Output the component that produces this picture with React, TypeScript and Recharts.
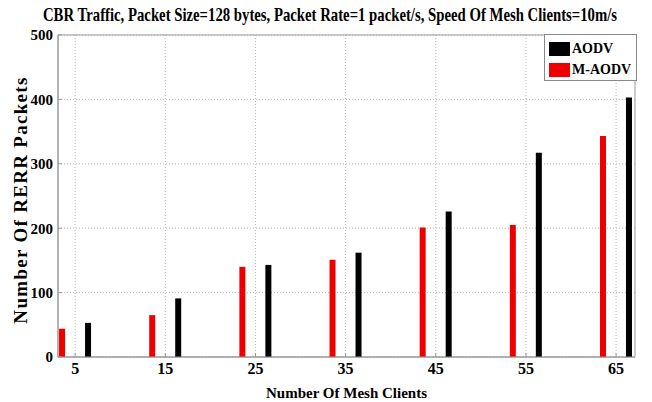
import { BarChart, Bar, XAxis, YAxis, CartesianGrid, ReferenceArea } from "recharts";

const clients = [5, 15, 25, 35, 45, 55, 65];
const aodv = [53, 91, 143, 162, 226, 317, 403];
const mAodv = [44, 65, 140, 151, 201, 205, 343];
const yTicks = [0, 100, 200, 300, 400, 500];

const TITLE = "CBR Traffic, Packet Size=128 bytes, Packet Rate=1 packet/s, Speed Of Mesh Clients=10m/s";
const FONT = '"Liberation Serif", "Times New Roman", serif';
const RED = "#ee0000";
const X_DOMAIN: [number, number] = [3.1, 67.1];

const data = clients.map((c, i) => ({ clients: c, aodv: aodv[i], mAodv: mAodv[i] }));

const xTickStyle = { fontFamily: FONT, fontWeight: 700, fontSize: 16, fill: "#000" };
const yTickStyle = { fontFamily: FONT, fontWeight: 700, fontSize: 15, fill: "#000" };

// legend sits inside the plot's top-right corner, drawn outside recharts so it takes no layout space
function LegendBox() {
  const items = [
    { name: "AODV", color: "#000" },
    { name: "M-AODV", color: RED },
  ];
  return (
    <div
      style={{
        position: "absolute",
        left: 544,
        top: 34,
        width: 93,
        height: 47,
        border: "1px solid #888",
        background: "#fff",
        boxSizing: "border-box",
        padding: "3px 0 0 4px",
      }}
    >
      {items.map((it) => (
        <div key={it.name} style={{ display: "flex", alignItems: "center", height: 21 }}>
          <span style={{ width: 21, height: 14, background: it.color, display: "inline-block" }} />
          <span style={{ marginLeft: 2, fontFamily: FONT, fontWeight: 700, fontSize: 14, color: "#000" }}>
            {it.name}
          </span>
        </div>
      ))}
    </div>
  );
}

export default function App() {
  return (
    <div style={{ position: "absolute", left: 0, top: 0, width: 652, height: 402, background: "#fff" }}>
      <BarChart
        width={652}
        height={402}
        data={data}
        margin={{ top: 35, right: 17, bottom: 0, left: 0 }}
        barSize={6}
        barGap={20}
      >
        <CartesianGrid stroke="#b8b8b8" strokeDasharray="1 2" horizontalValues={yTicks} verticalValues={clients} />
        {/* negative tickSize draws the short tick marks inside the plot box */}
        <XAxis
          dataKey="clients"
          type="number"
          domain={X_DOMAIN}
          ticks={clients}
          height={45}
          tickSize={-4}
          tickMargin={10}
          tickLine={{ stroke: "#999" }}
          axisLine={{ stroke: "#999" }}
          tick={xTickStyle}
          label={{
            content: ({ viewBox }: any) => (
              <text
                x={viewBox.x + viewBox.width / 2}
                y={viewBox.y + 41}
                textAnchor="middle"
                fontFamily={FONT}
                fontWeight={700}
                fontSize={15}
                fill="#000"
              >
                Number Of Mesh Clients
              </text>
            ),
          }}
        />
        <YAxis
          type="number"
          domain={[0, 500]}
          ticks={yTicks}
          width={58}
          tickSize={-4}
          tickMargin={9}
          tickLine={{ stroke: "#999" }}
          axisLine={{ stroke: "#999" }}
          tick={yTickStyle}
          label={{
            content: ({ viewBox }: any) => {
              const cx = 27;
              const cy = viewBox.y + viewBox.height / 2 + 4;
              return (
                <text
                  x={cx}
                  y={cy}
                  transform={`rotate(-90, ${cx}, ${cy})`}
                  textAnchor="middle"
                  fontFamily={FONT}
                  fontWeight={700}
                  fontSize={19}
                  letterSpacing={1.3}
                  fill="#000"
                >
                  Number Of RERR Packets
                </text>
              );
            },
          }}
        />
        <ReferenceArea x1={X_DOMAIN[0]} x2={X_DOMAIN[1]} y1={0} y2={500} fill="none" stroke="#999" />
        <Bar dataKey="mAodv" name="M-AODV" fill={RED} isAnimationActive={false} />
        <Bar dataKey="aodv" name="AODV" fill="#000" isAnimationActive={false} />
      </BarChart>
      <svg width={652} height={32} style={{ position: "absolute", left: 0, top: 0 }}>
        <text
          transform="translate(330, 21) scale(0.82, 1)"
          textAnchor="middle"
          fontFamily={FONT}
          fontWeight={700}
          fontSize={18}
          fill="#000"
        >
          {TITLE}
        </text>
      </svg>
      <LegendBox />
    </div>
  );
}
